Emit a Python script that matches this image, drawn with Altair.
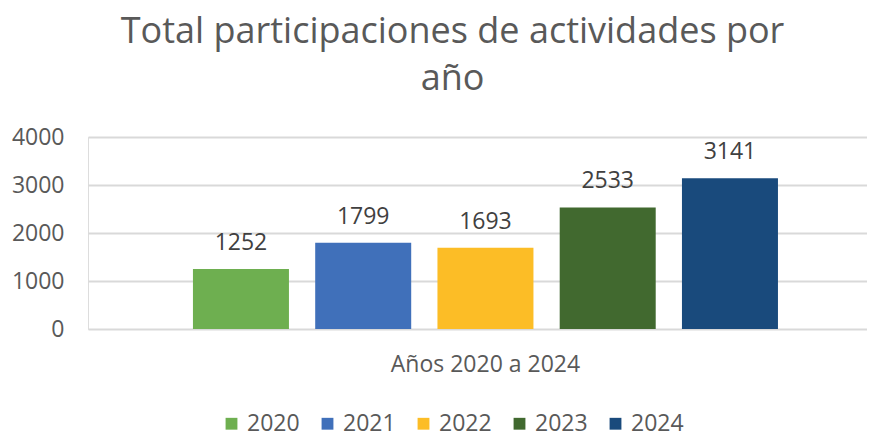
import altair as alt
import pandas as pd

years = ["2020", "2021", "2022", "2023", "2024"]
values = [1252, 1799, 1693, 2533, 3141]
colors = ["#6EAF50", "#4070BA", "#FCBD26", "#41692F", "#194A7C"]
group = "Años 2020 a 2024"
title_lines = ["Total participaciones de actividades por", "año"]
y_ticks = [0, 1000, 2000, 3000, 4000]

df = pd.DataFrame({"grupo": [group] * len(years), "anio": years, "valor": values})

FONT = "Open Sans"
GREY = "#595959"

x_enc = alt.X(
    "grupo:N",
    title=None,
    scale=alt.Scale(paddingInner=0, paddingOuter=0.1658, align=0.541),
    axis=alt.Axis(
        domain=False, ticks=False, labelAngle=0, labelFont=FONT,
        labelFontSize=23, labelColor=GREY, labelPadding=24, labelBaseline="top",
        labelLimit=500,
    ),
)
xoff_enc = alt.XOffset("anio:N", scale=alt.Scale(paddingInner=0.2147, paddingOuter=0))
y_enc = alt.Y(
    "valor:Q",
    title=None,
    scale=alt.Scale(domain=[0, 4000], nice=False),
    axis=alt.Axis(
        values=y_ticks, format="d", domain=False, ticks=False, labelFont=FONT,
        labelFontSize=23, labelColor=GREY, labelPadding=24,
        gridColor="#D9D9D9", gridWidth=2,
    ),
)

bars = alt.Chart(df).mark_bar().encode(
    x=x_enc,
    xOffset=xoff_enc,
    y=y_enc,
    color=alt.Color(
        "anio:N",
        scale=alt.Scale(domain=years, range=colors),
        legend=alt.Legend(
            title=None, orient="none", legendX=132, legendY=275, direction="horizontal",
            columns=5, symbolType="square", symbolSize=140, symbolStrokeWidth=0,
            labelFont=FONT, labelFontSize=23, labelColor=GREY, labelOffset=4,
            columnPadding=16,
        ),
    ),
)

labels = alt.Chart(df).mark_text(
    font=FONT, fontSize=23, color="#404040", baseline="alphabetic", dy=-19
).encode(
    x=alt.X("grupo:N"),
    xOffset=alt.XOffset("anio:N"),
    y=alt.Y("valor:Q"),
    text=alt.Text("valor:Q"),
)

chart = (
    alt.layer(bars, labels)
    .properties(
        width=779,
        height=192,
        autosize=alt.AutoSizeParams(type="none"),
        padding={"left": 80, "top": 129, "right": 0, "bottom": 108},
        title=alt.TitleParams(
            text=title_lines, font=FONT, fontSize=36, fontWeight="normal",
            color=GREY, anchor="middle", frame="group", dx=-25, offset=28,
            lineHeight=47,
        ),
    )
    .configure_view(stroke=None)
    .configure(background="white")
)

chart.save("out.html", embed_options={"renderer": "svg", "actions": False})
